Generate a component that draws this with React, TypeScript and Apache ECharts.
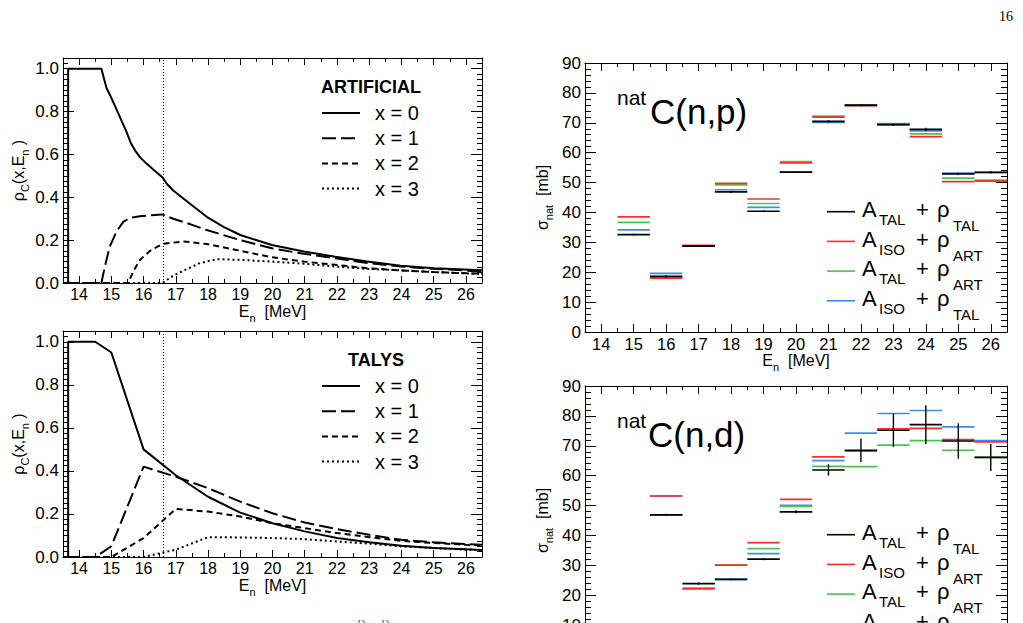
import React, { useEffect, useRef } from 'react';
import * as echarts from 'echarts';

const FONT = '"Liberation Sans", Arial, Helvetica, sans-serif';
const SERIF = '"Liberation Serif", "DejaVu Serif", serif';

// ---------- data: left panels (rho_C(x, E_n)) ----------
const xTickValues = [14, 15, 16, 17, 18, 19, 20, 21, 22, 23, 24, 25, 26];
const thresholdE = 16.6;

const artX0 = [[13.5, 0], [13.66, 0], [13.66, 1.0], [14.69, 1.0], [14.85, 0.91], [14.95, 0.88], [15.16, 0.81], [15.47, 0.705], [15.6, 0.655], [15.75, 0.615], [15.9, 0.585], [16.1, 0.556], [16.3, 0.53], [16.58, 0.494], [16.72, 0.463], [16.92, 0.432], [17.44, 0.37], [17.96, 0.309], [18.48, 0.262], [19.0, 0.224], [19.98, 0.177], [20.97, 0.147], [21.95, 0.123], [22.94, 0.1], [23.98, 0.08], [25.01, 0.069], [26.5, 0.059]];
const artX1 = [[13.5, 0], [14.69, 0], [14.8, 0.077], [14.95, 0.17], [15.16, 0.24], [15.37, 0.285], [15.57, 0.304], [15.89, 0.312], [16.58, 0.32], [16.92, 0.3], [17.44, 0.275], [17.96, 0.247], [19.0, 0.2], [19.98, 0.162], [20.97, 0.136], [21.95, 0.116], [22.94, 0.093], [23.98, 0.077], [25.01, 0.066], [26.5, 0.054]];
const artX2 = [[13.5, 0], [15.52, 0], [15.68, 0.054], [15.89, 0.108], [16.2, 0.15], [16.58, 0.182], [17.23, 0.194], [17.96, 0.182], [19.0, 0.15], [19.98, 0.12], [20.97, 0.1], [21.95, 0.085], [22.94, 0.069], [23.98, 0.059], [25.01, 0.051], [26.5, 0.043]];
const artX3 = [[13.5, 0], [16.58, 0], [16.92, 0.034], [17.34, 0.065], [17.75, 0.093], [18.27, 0.111], [19.0, 0.108], [19.98, 0.1], [20.97, 0.09], [21.95, 0.077], [22.94, 0.066], [23.98, 0.059], [25.01, 0.051], [26.5, 0.042]];

const talX0 = [[13.5, 0], [13.66, 0], [13.66, 1.0], [14.5, 1.0], [15, 0.95], [16, 0.5], [17, 0.38], [18, 0.28], [19, 0.206], [20, 0.157], [21, 0.119], [22, 0.088], [23, 0.068], [24, 0.052], [25, 0.042], [26, 0.036], [26.5, 0.033]];
const talX1 = [[13.5, 0], [14.5, 0], [15, 0.05], [16, 0.42], [17, 0.373], [18, 0.32], [19, 0.257], [20, 0.203], [21, 0.16], [22, 0.13], [23, 0.103], [24, 0.08], [25, 0.068], [26, 0.06], [26.5, 0.057]];
const talX2 = [[13.5, 0], [15, 0], [16, 0.088], [17, 0.223], [18, 0.211], [19, 0.188], [20, 0.157], [21, 0.134], [22, 0.111], [23, 0.092], [24, 0.075], [25, 0.065], [26, 0.057], [26.5, 0.054]];
const talX3 = [[13.5, 0], [16, 0], [17, 0.034], [18, 0.092], [19, 0.091], [20, 0.088], [21, 0.083], [22, 0.072], [23, 0.062], [24, 0.049], [25, 0.042], [26, 0.034], [26.5, 0.032]];

const leftLegendLabels = ['x = 0', 'x = 1', 'x = 2', 'x = 3'];

// ---------- data: right panels (sigma_nat) ----------
const binWidth = 1;
const npBins = [15, 16, 17, 18, 19, 20, 21, 22, 23, 24, 25, 26];
const npBlack = [32.6, 18.6, 28.7, 46.9, 40.4, 53.5, 70.5, 75.9, 69.4, 67.8, 52.9, 53.4];
const npBlackErr = [0.3, 0.4, 0.3, 0.4, 0.3, 0.3, 0.4, 0.4, 0.4, 0.5, 0.4, 0.4];
const npRed = [38.5, 18.0, 29.0, 49.7, 44.5, 56.6, 71.9, 75.7, 69.4, 65.4, 50.3, 50.5];
const npGreen = [36.7, 18.0, 28.8, 49.2, 43.0, 57.0, 72.2, 75.8, 69.7, 66.3, 51.5, 50.8];
const npBlue = [34.2, 19.6, 28.7, 47.6, 41.7, 53.5, 70.1, 75.8, 69.5, 67.3, 53.2, 53.4];

const ndBins = [16, 17, 18, 19, 20, 21, 22, 23, 24, 25, 26];
const ndBlack = [46.9, 23.9, 25.3, 32.1, 47.9, 61.9, 68.5, 75.2, 77.1, 71.6, 66.1];
const ndBlackErr = [0.4, 0.4, 0.3, 0.4, 0.5, 1.9, 3.9, 5.6, 6.5, 5.9, 4.5];
const ndRed = [53.2, 22.2, 30.1, 37.6, 52.1, 66.3, 68.2, 75.7, 75.8, 72.1, 71.3];
const ndGreen = [46.9, 22.3, 30.1, 35.6, 49.7, 63.1, 63.0, 70.2, 71.7, 68.5, 66.1];
const ndBlue = [53.2, 22.2, 25.3, 33.9, 50.1, 65.0, 74.2, 80.8, 81.8, 76.3, 71.7];

const RED = '#ff2a2a';
const GREEN = '#4cc44c';
const BLUE = '#3a8fe8';
const BLACK = '#000000';

const rightLegend = [
  { a: 'TAL', r: 'TAL', color: BLACK },
  { a: 'ISO', r: 'ART', color: RED },
  { a: 'TAL', r: 'ART', color: GREEN },
  { a: 'ISO', r: 'TAL', color: BLUE },
];

// ---------- layout ----------
const grids = [
  { left: 63, top: 58, right: 541, bottom: 340 },
  { left: 63, top: 331, right: 541, bottom: 66 },
  { left: 585, top: 63, right: 16, bottom: 291 },
  { left: 585, top: 386, right: 16, bottom: -32 },
];

const nameRich = {
  a: { fontSize: 16, fontFamily: FONT, color: '#000' },
  s: { fontSize: 11, fontFamily: FONT, color: '#000', padding: [12, 0, 0, 0] },
};

function xAxisPair(grid: number, labelSize: number, majorLen: number) {
  const base: any = {
    type: 'value', gridIndex: grid, min: 13.5, max: 26.5, interval: 1,
    splitLine: { show: false }, minorSplitLine: { show: false },
    axisLine: { show: true, onZero: false, lineStyle: { color: '#000', width: 1 } },
    axisTick: { show: true, inside: true, length: 4, lineStyle: { color: '#000' } },
    minorTick: { show: true, splitNumber: 2, length: majorLen, lineStyle: { color: '#000' } },
  };
  return [
    {
      ...base, position: 'bottom',
      axisLabel: {
        show: true, customValues: xTickValues, margin: 3, color: '#000', fontSize: labelSize, fontFamily: FONT,
        formatter: (v: number) => (Math.abs(v - Math.round(v)) < 1e-6 ? String(Math.round(v)) : ''),
      },
      name: '{a|E}{s|n}{a|  [MeV]}', nameLocation: 'middle', nameGap: 17,
      nameTextStyle: { rich: nameRich },
    },
    { ...base, position: 'top', axisLabel: { show: false } },
  ];
}

function yRhoAxes(grid: number) {
  const mk = (pos: string, labels: boolean) => [
    {
      type: 'value', gridIndex: grid, position: pos, min: 0, max: 1.05, interval: 0.2,
      splitLine: { show: false },
      axisLine: { show: true, onZero: false, lineStyle: { color: '#000', width: 1 } },
      axisTick: { show: true, inside: true, length: 11, lineStyle: { color: '#000' } },
      axisLabel: {
        show: labels, margin: 4, color: '#000', fontSize: 17, fontFamily: FONT,
        formatter: (v: number) => (v > 1.01 ? '' : v.toFixed(1)),
      },
      ...(labels ? {
        name: '{a|ρ}{s|C}{a|(x,E}{s|n}{a| )}', nameLocation: 'middle', nameGap: 33,
        nameTextStyle: { rich: nameRich },
      } : {}),
    },
    {
      type: 'value', gridIndex: grid, position: pos, min: 0, max: 1.05, interval: 0.025,
      splitLine: { show: false },
      axisLine: { show: false },
      axisTick: { show: true, inside: true, length: 5, lineStyle: { color: '#000' } },
      axisLabel: { show: false },
    },
  ];
  return [...mk('left', true), ...mk('right', false)];
}

function ySigmaAxes(grid: number) {
  const mk = (pos: string, labels: boolean) => ({
    type: 'value', gridIndex: grid, position: pos, min: 0, max: 90, interval: 10,
    splitLine: { show: false }, minorSplitLine: { show: false },
    axisLine: { show: true, onZero: false, lineStyle: { color: '#000', width: 1 } },
    axisTick: { show: true, inside: true, length: 11, lineStyle: { color: '#000' } },
    minorTick: { show: true, splitNumber: 5, length: 6, lineStyle: { color: '#000' } },
    axisLabel: { show: labels, margin: 4, color: '#000', fontSize: 17, fontFamily: FONT },
    ...(labels ? {
      name: '{a|σ}{s|nat}{a|  [mb]}', nameLocation: 'middle', nameGap: 31,
      nameTextStyle: { rich: nameRich },
    } : {}),
  });
  return [mk('left', true), mk('right', false)];
}

const dashes: any[] = ['solid', [14, 5], [6, 4], [2, 3]];

function rhoSeries(grid: number, yIdx: number, curves: number[][][]) {
  return curves.map((c, i) => ({
    type: 'line', xAxisIndex: grid * 2, yAxisIndex: yIdx, data: c,
    symbol: 'none', silent: true, clip: true,
    lineStyle: { color: '#000', width: 2, type: dashes[i] },
    ...(i === 0 ? {
      markLine: {
        silent: true, symbol: ['none', 'none'], label: { show: false },
        lineStyle: { color: '#000', width: 1, type: [1, 2] },
        data: [{ xAxis: thresholdE }],
      },
    } : {}),
  }));
}

function binSeries(grid: number, yIdx: number, bins: number[], vals: number[], color: string, errs?: number[]) {
  return {
    type: 'custom', xAxisIndex: grid * 2, yAxisIndex: yIdx, silent: true,
    data: bins.map((b, i) => [b, vals[i], errs ? errs[i] : 0]),
    encode: { x: 0, y: 1 },
    renderItem: (_p: any, api: any) => {
      const x = api.value(0);
      const y = api.value(1);
      const e = api.value(2);
      const p1 = api.coord([x - binWidth / 2, y]);
      const p2 = api.coord([x + binWidth / 2, y]);
      const children: any[] = [{
        type: 'line', shape: { x1: p1[0], y1: p1[1], x2: p2[0], y2: p2[1] },
        style: { stroke: color, lineWidth: 1.7 },
      }];
      if (e > 0) {
        const t = api.coord([x, y + e]);
        const b = api.coord([x, y - e]);
        children.push({ type: 'line', shape: { x1: t[0], y1: t[1], x2: b[0], y2: b[1] }, style: { stroke: color, lineWidth: 1.4 } });
      }
      return { type: 'group', children };
    },
  };
}

function buildGraphics() {
  const g: any[] = [];
  const txt = (x: number, y: number, text: string, size: number, extra: any = {}) =>
    g.push({ type: 'text', x, y, silent: true, style: { text, fontSize: size, fontFamily: FONT, fill: '#000', align: 'left', verticalAlign: 'middle', ...extra } });
  const seg = (x1: number, y1: number, x2: number, y2: number, color: string, w: number, dash?: any) =>
    g.push({ type: 'line', silent: true, shape: { x1, y1, x2, y2 }, style: { stroke: color, lineWidth: w, lineDash: dash } });

  // left legends
  const leftPanels = [{ top: 58, header: 'ARTIFICIAL', hx: 371 }, { top: 331, header: 'TALYS', hx: 376 }];
  leftPanels.forEach((p) => {
    txt(p.hx, p.top + 35.6 - 6.3, p.header, 18, { fontWeight: 'bold', align: 'center' });
    leftLegendLabels.forEach((lab, i) => {
      const y = p.top + 55 + 25.2 * i;
      seg(322, y, 360, y, '#000', 2, i === 0 ? null : dashes[i]);
      txt(375, y, lab, 20);
    });
  });

  // right legends + titles
  const rightPanels = [{ top: 63, title: 'C(n,p)', tx: 650 }, { top: 386, title: 'C(n,d)', tx: 648 }];
  rightPanels.forEach((p) => {
    txt(617, p.top + 42 - 7.3, 'nat', 21);
    txt(p.tx, p.top + 61 - 12.2, p.title, 35);
    rightLegend.forEach((r, i) => {
      const ly = p.top + 148.7 + 29.7 * i;
      seg(827, ly, 855, ly, r.color, 1.6);
      const base = ly + 5.5;
      txt(862, base - 7.7, 'A', 22);
      txt(879, base + 7.5 - 5.2, r.a, 15);
      txt(916, base - 7.7, '+', 22);
      txt(937, base - 7.7, 'ρ', 22);
      txt(953, base + 13.5 - 5.2, r.r, 15);
    });
  });

  // page number and caption fragments
  txt(1013, 16, '16', 14, { align: 'right', fontFamily: SERIF });
  txt(357, 623, '12', 8, { fontFamily: SERIF });
  txt(381, 623, '12', 8, { fontFamily: SERIF });
  return g;
}

function buildOption(): any {
  return {
    animation: false,
    backgroundColor: '#ffffff',
    grid: grids.map((g) => ({ ...g, containLabel: false, outerBoundsMode: 'none' })),
    xAxis: [...xAxisPair(0, 16, 7), ...xAxisPair(1, 16, 7), ...xAxisPair(2, 16.5, 8), ...xAxisPair(3, 16.5, 8)],
    yAxis: [...yRhoAxes(0), ...yRhoAxes(1), ...ySigmaAxes(2), ...ySigmaAxes(3)],
    series: [
      ...rhoSeries(0, 0, [artX0, artX1, artX2, artX3]),
      ...rhoSeries(1, 4, [talX0, talX1, talX2, talX3]),
      binSeries(2, 8, npBins, npBlue, BLUE),
      binSeries(2, 8, npBins, npGreen, GREEN),
      binSeries(2, 8, npBins, npRed, RED),
      binSeries(2, 8, npBins, npBlack, BLACK, npBlackErr),
      binSeries(3, 10, ndBins, ndBlue, BLUE),
      binSeries(3, 10, ndBins, ndGreen, GREEN),
      binSeries(3, 10, ndBins, ndRed, RED),
      binSeries(3, 10, ndBins, ndBlack, BLACK, ndBlackErr),
    ],
    graphic: buildGraphics(),
  };
}

export default function App() {
  const ref = useRef<HTMLDivElement>(null);
  useEffect(() => {
    const chart = echarts.init(ref.current as HTMLDivElement, null, { renderer: 'svg' });
    chart.setOption(buildOption());
    return () => chart.dispose();
  }, []);
  return (
    <div
      ref={ref}
      style={{ position: 'fixed', left: 0, top: 0, width: 1023, height: 623, background: '#fff' }}
    />
  );
}
